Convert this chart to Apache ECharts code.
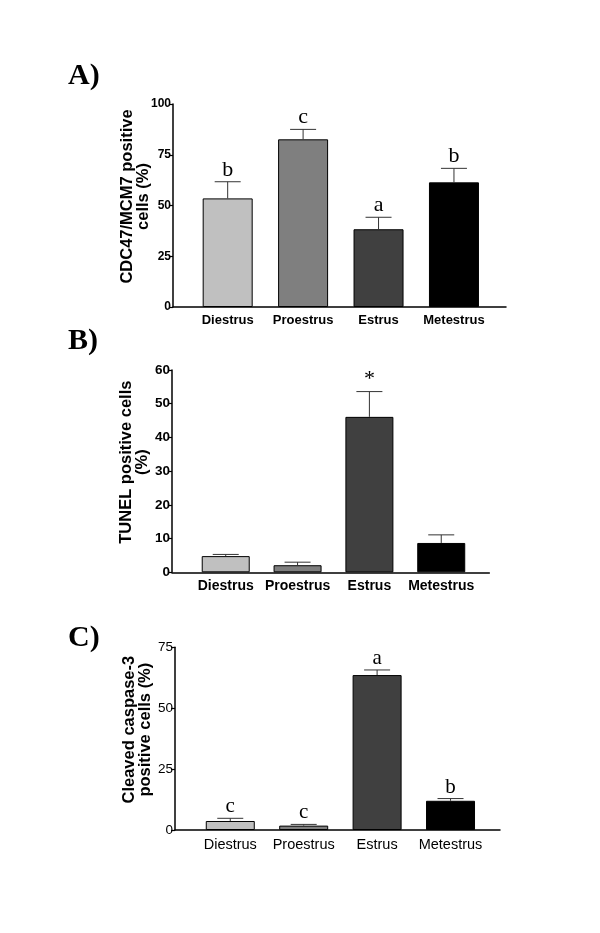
<!DOCTYPE html>
<html>
<head>
<meta charset="utf-8">
<script src="https://cdn.jsdelivr.net/npm/echarts@6/dist/echarts.min.js"></script>
<style>
html,body{margin:0;padding:0;background:#fff;}
#chart{width:600px;height:933px;}
</style>
</head>
<body>
<div id="chart"></div>
<script>
// ---- data ----
const categories = ['Diestrus', 'Proestrus', 'Estrus', 'Metestrus'];
const cdcMean = [53.5, 82.6, 38.3, 61.4];
const cdcSem = [8.2, 4.9, 5.9, 6.9];
const cdcLetters = ['b', 'c', 'a', 'b'];
const tunelMean = [4.8, 2.1, 46.1, 8.7];
const tunelSem = [0.5, 0.9, 7.5, 2.4];
const tunelMarks = ['', '', '*', ''];
const caspMean = [3.7, 1.8, 63.6, 12.0];
const caspSem = [1.1, 0.5, 2.1, 0.9];
const caspLetters = ['c', 'c', 'a', 'b'];
const cdcTicks = [0, 25, 50, 75, 100];
const tunelTicks = [0, 10, 20, 30, 40, 50, 60];
const caspTicks = [0, 25, 50, 75];
const panelLabels = ['A)', 'B)', 'C)'];
const yTitles = ['CDC47/MCM7 positive\ncells (%)', 'TUNEL positive cells\n(%)', 'Cleaved caspase-3\npositive cells (%)'];

const barColors = ['#c0c0c0', '#7f7f7f', '#404040', '#000000'];
const SANS = 'Liberation Sans, Arial, sans-serif';
const SERIF = 'Liberation Serif, Times New Roman, serif';

const panels = [
  { mean: cdcMean, sem: cdcSem, marks: cdcLetters, ticks: cdcTicks,
    grid: { left: 173, right: 94, top: 104, bottom: 626 },
    xmin: -0.725, xmax: 3.69, barWidth: 50, bold: true, tickSize: 12, catSize: 13, markSize: 22 },
  { mean: tunelMean, sem: tunelSem, marks: tunelMarks, ticks: tunelTicks,
    grid: { left: 172, right: 110.7, top: 370, bottom: 360.7 },
    xmin: -0.748, xmax: 3.669, barWidth: 48, bold: true, tickSize: 13.5, catSize: 14, markSize: 22 },
  { mean: caspMean, sem: caspSem, marks: caspLetters, ticks: caspTicks,
    grid: { left: 175, right: 100, top: 647.3, bottom: 103 },
    xmin: -0.753, xmax: 3.674, barWidth: 49, bold: false, tickSize: 13.5, catSize: 14.5, markSize: 21 }
];

const grids = [], xAxes = [], yAxes = [], series = [];
panels.forEach((p, k) => {
  grids.push(p.grid);
  const idx = categories.map((c, i) => i);
  xAxes.push({
    type: 'value', gridIndex: k, min: p.xmin, max: p.xmax,
    splitLine: { show: false },
    axisLine: { show: true, lineStyle: { color: '#000', width: 1.5 } },
    axisTick: { show: false },
    axisLabel: {
      customValues: idx,
      formatter: v => categories[Math.round(v)],
      color: '#000', fontFamily: SANS, fontSize: p.catSize,
      fontWeight: p.bold ? 'bold' : 'normal', margin: 7
    }
  });
  const tk = p.ticks;
  yAxes.push({
    type: 'value', gridIndex: k, min: tk[0], max: tk[tk.length - 1],
    interval: tk[1] - tk[0],
    splitLine: { show: false },
    axisLine: { show: true, onZero: false, lineStyle: { color: '#000', width: 1.5 } },
    axisTick: { show: true, length: 4, lineStyle: { color: '#000', width: 1.2 } },
    axisLabel: { color: '#000', fontFamily: SANS, fontSize: p.tickSize,
      fontWeight: p.bold ? 'bold' : 'normal', margin: 2 },
    name: yTitles[k], nameLocation: 'middle', nameGap: 21, nameRotate: 90,
    nameMoveOverlap: false,
    nameTextStyle: { color: '#000', fontFamily: SANS, fontSize: 16.5, fontWeight: 'bold',
      lineHeight: 16.5, align: 'center', padding: [0, 0, 0, 18] }
  });
  series.push({
    type: 'bar', xAxisIndex: k, yAxisIndex: k, barWidth: p.barWidth,
    data: p.mean.map((m, i) => ({ value: [i, m], itemStyle: { color: barColors[i] } })),
    itemStyle: { borderColor: '#000', borderWidth: 1 },
    silent: true, animation: false
  });
  series.push({
    type: 'custom', xAxisIndex: k, yAxisIndex: k, z: 5, animation: false, silent: true,
    data: p.mean.map((m, i) => [i, m, m + p.sem[i]]),
    renderItem: (params, api) => {
      const x = api.value(0);
      const base = api.coord([x, api.value(1)]);
      const top = api.coord([x, api.value(2)]);
      const mark = p.marks[params.dataIndex];
      const children = [
        { type: 'line', shape: { x1: base[0], y1: base[1], x2: top[0], y2: top[1] },
          style: { stroke: '#333', lineWidth: 1 } },
        { type: 'line', shape: { x1: top[0] - 13, y1: top[1], x2: top[0] + 13, y2: top[1] },
          style: { stroke: '#333', lineWidth: 1 } }
      ];
      if (mark) {
        children.push({ type: 'text', x: top[0], y: top[1] - 1,
          style: { text: mark, fill: '#000', font: p.markSize + 'px ' + SERIF,
            align: 'center', verticalAlign: 'bottom' } });
      }
      return { type: 'group', children };
    }
  });
});

const titles = panelLabels.map((t, k) => ({
  text: t, left: 68, top: [61, 326, 623][k], padding: 0,
  textStyle: { fontFamily: SERIF, fontSize: 30, fontWeight: 'bold', color: '#000' }
}));

const chart = echarts.init(document.getElementById('chart'), null, { renderer: 'canvas' });
chart.setOption({
  backgroundColor: '#fff',
  animation: false,
  title: titles,
  grid: grids,
  xAxis: xAxes,
  yAxis: yAxes,
  series: series
});
</script>
</body>
</html>
